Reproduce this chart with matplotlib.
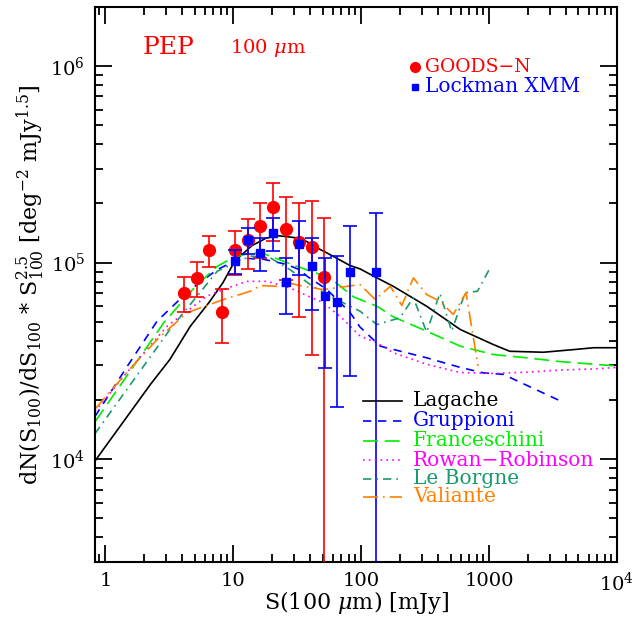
import matplotlib
matplotlib.use("Agg")
import matplotlib.pyplot as plt
import numpy as np

plt.rcParams['font.family'] = ['DejaVu Serif']
plt.rcParams['mathtext.fontset'] = 'dejavuserif'

# ---------------- data ----------------
S_goods = [4.1, 5.2, 6.5, 8.2, 10.3, 13.0, 16.3, 20.5, 25.8, 32.5, 41.0, 51.6]
N_goods = [70200, 83600, 116000, 56000, 116000, 130000, 153000, 192000, 149000, 127000, 120000, 84600]
err_goods = [14400, 16800, 21000, 17200, 29000, 37000, 48000, 63000, 67000, 74000, 86000, 84400]

S_lock = [10.3, 13.0, 16.3, 20.6, 25.9, 32.6, 41.0, 51.7, 64.4, 81.8, 129.8]
N_lock = [102000, 130000, 112000, 142000, 79800, 124500, 95800, 67500, 63200, 89700, 89700]
err_lock = [14000, 20000, 21000, 27000, 25200, 37500, 38200, 38500, 44800, 63300, 89300]

S_lagache = [0.83, 2.25, 3.2, 4.6, 6.5, 8.3, 10.3, 14, 18, 22.5, 27.7, 31.4, 37.6, 45, 54, 82, 98, 133, 178, 325, 595, 1070, 1450, 2660, 4800, 6560, 10000]
N_lagache = [9800, 24000, 32200, 47300, 63000, 79000, 102000, 122000, 133000, 137000, 135000, 133500, 128000, 119000, 112000, 96600, 92900, 83600, 75800, 60000, 45700, 38400, 35400, 35000, 36200, 36900, 36900]

S_grupp = [0.83, 1.5, 2.54, 4.5, 7.5, 10.3, 12.8, 17.2, 26, 33, 38, 54, 82, 98, 141, 325, 595, 900, 1300, 1560, 3600]
N_grupp = [16500, 30000, 50400, 72000, 92100, 102000, 105000, 104000, 98000, 92000, 85000, 73000, 55700, 47000, 37600, 32800, 29300, 27500, 27000, 25500, 19800]

S_franc = [0.83, 1.5, 2.86, 5, 7.5, 10, 13.6, 17.3, 31.4, 57, 87, 133, 178, 325, 595, 1070, 1950, 3540, 6560, 10000]
N_franc = [15500, 27000, 49400, 75000, 95800, 106000, 112000, 111000, 95800, 83600, 67000, 60000, 53000, 44800, 37600, 34100, 32800, 31400, 30400, 29800]

S_rowan = [0.83, 1.5, 3.04, 6.2, 8.4, 12.8, 18.4, 27.8, 50.6, 72.7, 98, 133, 178, 325, 595, 1070, 1950, 3540, 6560, 10000]
N_rowan = [17500, 28000, 47500, 67500, 73000, 80300, 80300, 74300, 62400, 51400, 42300, 39100, 34800, 30400, 27600, 27300, 27700, 28400, 28800, 29300]

S_borgne = [0.83, 1.5, 3.2, 7.5, 13.6, 19.5, 27.8, 40, 57, 98, 133, 201, 256, 325, 413, 510, 650, 810, 1020]
N_borgne = [13500, 23000, 45700, 90400, 108000, 105700, 92100, 77300, 67500, 56600, 48400, 52400, 66200, 44300, 69800, 44800, 70300, 71500, 94000]

S_val = [0.83, 1.5, 2.54, 3.2, 4.35, 8.4, 13.6, 16.3, 21.9, 24.7, 35.5, 50.6, 98, 129, 169, 208, 256, 325, 413, 525, 660, 820]
N_val = [18000, 28000, 40600, 46600, 55600, 64900, 71500, 76400, 75800, 79800, 75800, 72900, 77300, 64900, 75800, 60500, 83600, 68800, 63600, 54500, 70300, 29800]

model_names = ["Lagache", "Gruppioni", "Franceschini", "Rowan\u2212Robinson", "Le Borgne", "Valiante"]

# ---------------- figure ----------------
fig = plt.figure(figsize=(6.35, 6.21), dpi=100)
ax = fig.add_axes([0.1496, 0.095, 0.822, 0.894])
ax.set_xscale('log')
ax.set_yscale('log')
ax.set_xlim(0.83, 1e4)
ax.set_ylim(3000, 2.0e6)

models = [
    (S_lagache, N_lagache, 'black', '-'),
    (S_grupp, N_grupp, '#0000ff', (0, (5, 4))),
    (S_franc, N_franc, '#00ee00', (0, (9, 4))),
    (S_rowan, N_rowan, '#ff00ff', (0, (1, 2.5))),
    (S_borgne, N_borgne, '#1a9a6a', (0, (5, 3, 1, 3))),
    (S_val, N_val, '#ff8000', (0, (9, 3, 1, 3))),
]
for s, n, c, ls in models:
    ax.plot(s, n, color=c, ls=ls, lw=1.2)

def errs(n, e):
    n = np.array(n, float)
    e = np.array(e, float)
    lo = np.maximum(n - e, 1.0)
    return [n - lo, e]

ax.errorbar(S_goods, N_goods, yerr=errs(N_goods, err_goods), fmt='o', color='#ff0000',
            ms=8.5, elinewidth=1.2, capsize=5, capthick=1.2, zorder=5)
ax.errorbar(S_lock, N_lock, yerr=errs(N_lock, err_lock), fmt='s', color='#0000ff',
            ms=6, elinewidth=1.2, capsize=5, capthick=1.2, zorder=6)

# ticks
ax.set_xticks([1, 10, 100, 1000, 10000])
ax.set_xticklabels(['1', '10', '100', '1000', '10$^4$'])
ax.set_yticks([1e4, 1e5, 1e6])
ax.set_yticklabels(['10$^4$', '10$^5$', '10$^6$'])
ax.tick_params(which='both', direction='in', top=True, right=True, labelsize=14, width=1.3)
ax.tick_params(which='major', length=12, pad=7)
ax.tick_params(which='minor', length=6)
for sp in ax.spines.values():
    sp.set_linewidth(1.5)

ax.set_xlabel(r'S(100 $\mu$m) [mJy]', fontsize=16, labelpad=-4)
ax.set_ylabel(r'dN(S$_{100}$)/dS$_{100}$ * S$^{2.5}_{100}$ [deg$^{-2}$ mJy$^{1.5}$]', fontsize=16, labelpad=2)

# annotations
fig.text(143/635, 1 - 48/621, 'PEP', color='#ff0000', fontsize=18, va='center', ha='left')
fig.text(230/635, 1 - 48/621, r'100 $\mu$m', color='#ff0000', fontsize=14, va='center', ha='left')
fig.text(425/635, 1 - 67/621, 'GOODS\u2212N', color='#ff0000', fontsize=13.5, va='center', ha='left')
fig.text(425/635, 1 - 87/621, 'Lockman XMM', color='#0000ff', fontsize=14.5, va='center', ha='left')
fig.lines.append(plt.Line2D([415/635], [1 - 67/621], marker='o', color='#ff0000', ms=7, transform=fig.transFigure))
fig.lines.append(plt.Line2D([415/635], [1 - 87/621], marker='s', color='#0000ff', ms=5, transform=fig.transFigure))

# model legend
rows_y = [401, 421, 441, 460, 479, 497]
for (s, n, c, ls), name, y in zip(models, model_names, rows_y):
    yf = 1 - y / 621
    fig.lines.append(plt.Line2D([363/635, 402/635], [yf, yf], color=c, ls=ls, lw=1.2,
                                transform=fig.transFigure))
    fig.text(413/635, yf, name, color=c, fontsize=14.5, va='center', ha='left')

fig.savefig('out.png', dpi=100)
